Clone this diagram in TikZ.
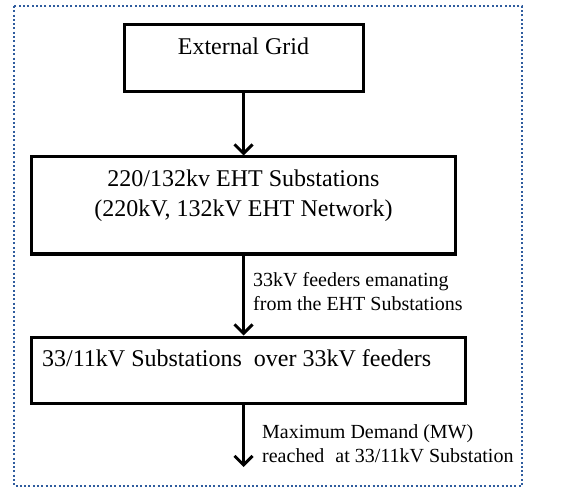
\documentclass[tikz,border=0pt]{standalone}
\usepackage{fontspec}
\setmainfont{Liberation Serif}
\usetikzlibrary{arrows.meta,positioning}
\definecolor{framecol}{RGB}{47,92,158}

\begin{document}
\begin{tikzpicture}[x=1pt,y=1pt,
    box/.style={draw,line width=3pt,inner sep=0pt},
    boxtext/.style={font=\fontsize{24}{30}\selectfont,align=center,anchor=base,inner sep=0pt},
    flowtext/.style={font=\fontsize{20}{24}\selectfont,align=left,anchor=base west,inner sep=0pt},
    flow/.style={line width=3pt,-{Straight Barb[length=9pt,width=18pt,line width=3pt]}}]
    \useasboundingbox (0,0) rectangle (581,-489);
    % dotted frame round the whole chart
    \draw[framecol,line width=2pt,dash pattern=on 2pt off 2.3pt] (14,-6) rectangle (522,-486);

    \node[box,minimum width=239pt,minimum height=67pt] (grid) at (243.5,-58.5) {};
    \node[boxtext] (gridtxt) at (243.5,-55) {External Grid};

    \node[box,minimum width=424pt,minimum height=97pt] (eht) at (243.5,-205.5) {};
    \node[boxtext] (ehttxt) at (243.5,-217) {220/132kv EHT Substations\\(220kV, 132kV EHT Network)};

    \node[box,minimum width=434pt,minimum height=66pt] (dist) at (248,-370) {};
    \node[boxtext,anchor=base west] (disttxt) at (42,-366) {33/11kV Substations\hspace{0.25em} over 33kV feeders};

    \coordinate (demand) at (243.5,-467);

    \draw[flow] (grid.south) -- (eht.north);
    \draw[flow] (eht.south) -- (eht.south |- dist.north);
    \draw[flow] (dist.south -| demand) -- (demand);

    \node[flowtext] (feedtxt) at (253,-310) {33kV feeders emanating\\from the EHT Substations};
    \node[flowtext] (mdtxt) at (262,-462) {Maximum Demand (MW)\\reached\hspace{0.3em} at 33/11kV Substation};
\end{tikzpicture}
\end{document}
